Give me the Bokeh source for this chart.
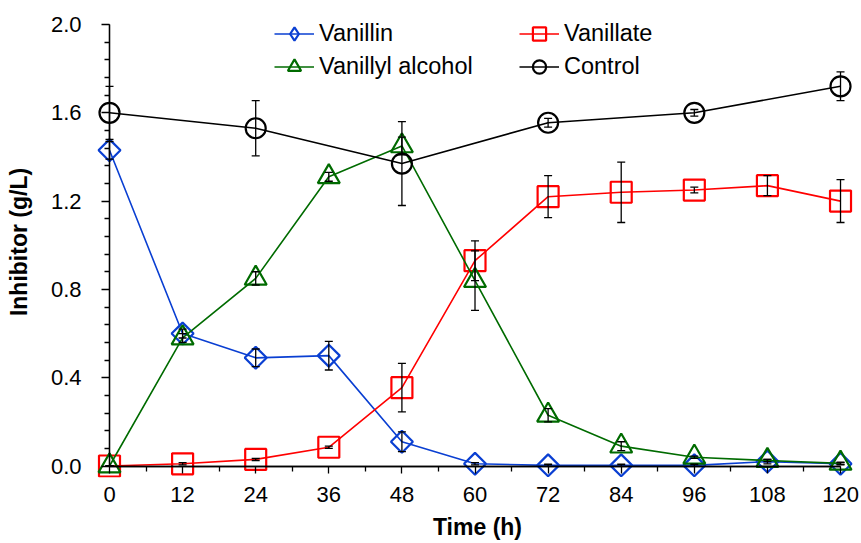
from bokeh.plotting import figure
from bokeh.models import (Range1d, FixedTicker, NumeralTickFormatter, Legend,
                          LegendItem, ColumnDataSource, Whisker, TeeHead,
                          LinearAxis)
from bokeh.embed import file_html
from bokeh.resources import INLINE

# Sampling times (h)
time_h = [0, 12, 24, 36, 48, 60, 72, 84, 96, 108, 120]
control_time = [0, 24, 48, 72, 96, 120]

# Concentrations (g/L) and standard deviations
vanillin = [1.43, 0.60, 0.49, 0.50, 0.11, 0.01, 0.003, 0.003, 0.003, 0.02, 0.01]
vanillin_sd = [0.04, 0.02, 0.04, 0.065, 0.045, 0.005, 0.005, 0.005, 0.005, 0.01, 0.005]

vanillate = [0.0, 0.01, 0.03, 0.085, 0.355, 0.93, 1.22, 1.24, 1.25, 1.27, 1.20]
vanillate_sd = [0.0, 0.005, 0.005, 0.005, 0.11, 0.09, 0.095, 0.137, 0.013, 0.045, 0.097]

vanillyl_alcohol = [0.0, 0.58, 0.85, 1.31, 1.45, 0.84, 0.23, 0.09, 0.04, 0.025, 0.012]
vanillyl_alcohol_sd = [0.0, 0.02, 0.03, 0.02, 0.04, 0.135, 0.03, 0.02, 0.005, 0.005, 0.005]

control = [1.60, 1.53, 1.37, 1.555, 1.60, 1.72]
control_sd = [0.12, 0.125, 0.19, 0.02, 0.015, 0.065]

x_ticks = [0, 12, 24, 36, 48, 60, 72, 84, 96, 108, 120]
x_minor = list(range(6, 121, 12))
y_ticks = [0.0, 0.4, 0.8, 1.2, 1.6, 2.0]
y_minor = [round(i * 0.08, 2) for i in range(26) if i % 5]

FONT = "Liberation Sans"

p = figure(width=861, height=543, output_backend="svg", toolbar_location=None,
           x_range=Range1d(-2.462, 123.28), y_range=Range1d(-0.052, 2.0815),
           min_border_left=94, min_border_right=1, min_border_top=6,
           min_border_bottom=66)
p.outline_line_color = None
p.grid.visible = False
p.background_fill_color = "white"
p.border_fill_color = "white"

# Default axes: only the tick labels and axis titles
xlab, ylab = p.xaxis[0], p.yaxis[0]
xlab.ticker = FixedTicker(ticks=x_ticks, minor_ticks=[])
ylab.ticker = FixedTicker(ticks=y_ticks, minor_ticks=[])
ylab.formatter = NumeralTickFormatter(format="0.0")
for ax in (xlab, ylab):
    ax.axis_line_color = None
    ax.major_tick_line_color = None
    ax.minor_tick_line_color = None
    ax.major_tick_out = 0
    ax.major_tick_in = 0
    ax.minor_tick_out = 0
    ax.minor_tick_in = 0
    ax.major_label_text_font = FONT
    ax.major_label_text_font_size = "22px"
    ax.major_label_text_color = "black"
    ax.axis_label_text_font = FONT
    ax.axis_label_text_font_size = "23px"
    ax.axis_label_text_font_style = "bold"
    ax.axis_label_text_color = "black"
xlab.major_label_standoff = 9
ylab.major_label_standoff = 13
xlab.axis_label_standoff = 9
ylab.axis_label_standoff = 16
xlab.axis_label = "Time (h)"
ylab.axis_label = "Inhibitor (g/L)"


# Axis lines and tick marks through the data origin (tick marks only, no labels)
def origin_axis(marks, bounds, tick_len):
    return LinearAxis(
        fixed_location=0, bounds=bounds,
        ticker=FixedTicker(ticks=[], minor_ticks=marks),
        axis_line_color="black", axis_line_width=1.3,
        major_tick_line_color=None,
        minor_tick_line_color="black", minor_tick_line_width=1.3,
        major_tick_in=0, major_tick_out=0,
        minor_tick_in=tick_len, minor_tick_out=0,
        major_label_standoff=0, axis_label=None)


p.add_layout(origin_axis(y_ticks, (0, 2), 8), "right")
p.add_layout(origin_axis(y_minor, (0, 2), 5), "right")
p.add_layout(origin_axis(x_ticks, (0, 120), 7), "above")
p.add_layout(origin_axis(x_minor, (0, 120), 5), "above")


def series(x, y, sd, color, marker, size, label, angle=0.0, key_marker=None):
    src = ColumnDataSource(dict(
        x=x, y=y,
        lo=[v - e for v, e in zip(y, sd)],
        hi=[v + e for v, e in zip(y, sd)],
    ))
    ln = p.line("x", "y", source=src, line_color=color, line_width=1.6)
    pts = p.scatter("x", "y", source=src, marker=marker, size=size, angle=angle,
                    fill_color=None, line_color=color, line_width=2.2)
    wh = Whisker(source=src, base="x", lower="lo", upper="hi",
                 line_color="black", line_width=1.3, level="overlay",
                 upper_head=TeeHead(size=8, line_color="black", line_width=1.3),
                 lower_head=TeeHead(size=8, line_color="black", line_width=1.3))
    p.add_layout(wh)
    key = pts
    if key_marker is not None:
        # zero-size copy whose only job is the legend key
        key = p.scatter("x", "y", source=src, marker=key_marker, size=0,
                        fill_color=None, line_color=color, line_width=2.2)
    return LegendItem(label=label, renderers=[ln, key])


it_vanillin = series(time_h, vanillin, vanillin_sd, "#0a3fd2", "square", 15.5,
                     "Vanillin", angle=0.7853981634, key_marker="diamond")
it_vanillate = series(time_h, vanillate, vanillate_sd, "#ff0000", "square", 21,
                      "Vanillate")
it_alcohol = series(time_h, vanillyl_alcohol, vanillyl_alcohol_sd, "#006b00",
                    "triangle", 22, "Vanillyl alcohol")
it_control = series(control_time, control, control_sd, "#000000", "circle", 20,
                    "Control")

for items, loc in (([it_vanillin, it_alcohol], (180, 394)),
                   ([it_vanillate, it_control], (425, 394))):
    leg = Legend(items=items, location=loc)
    leg.border_line_color = None
    leg.background_fill_alpha = 0
    leg.padding = 0
    leg.margin = 0
    leg.spacing = 0
    leg.glyph_width = 40
    leg.glyph_height = 33
    leg.label_height = 33
    leg.label_standoff = 5
    leg.label_text_font = FONT
    leg.label_text_font_size = "23.5px"
    leg.label_text_color = "black"
    p.add_layout(leg)

open("out.html", "w").write(file_html(p, INLINE))
